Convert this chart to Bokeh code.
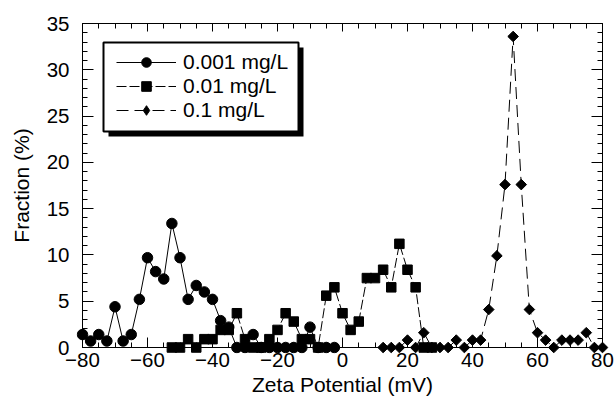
import numpy as np
from bokeh.plotting import figure
from bokeh.models import (LinearAxis, SingleIntervalTicker, Range1d, Legend,
                          LegendItem, BoxAnnotation, CustomLabelingPolicy)
from bokeh.embed import file_html
from bokeh.resources import INLINE

# Zeta potential distributions at three concentrations
zeta_001 = [-80, -77.5, -75, -72.5, -70, -67.5, -65, -62.5, -60, -57.5, -55,
            -52.5, -50, -47.5, -45, -42.5, -40, -37.5, -35, -32.5, -30, -27.5,
            -25, -22.5, -20, -17.5, -15, -12.5, -10, -7.5, -5, -2.5]
frac_001 = [1.4, 0.7, 1.4, 0.7, 4.4, 0.7, 1.4, 5.2, 9.7, 8.2, 7.4,
            13.4, 9.7, 5.2, 6.7, 6.0, 5.2, 2.9, 2.2, 0, 0, 1.4,
            0, 0, 0, 0, 0, 0, 2.2, 0, 0, 0]

zeta_01 = [-52.5, -50, -47.5, -45, -42.5, -40, -37.5, -35, -32.5, -30, -27.5,
           -25, -22.5, -20, -17.5, -15, -12.5, -10, -7.5, -5, -2.5, 0, 2.5,
           5, 7.5, 10, 12.5, 15, 17.5, 20, 22.5, 25, 27.5]
frac_01 = [0, 0, 0.9, 0, 0.9, 0.9, 1.9, 1.9, 3.7, 0.9, 0,
           0, 0.9, 1.9, 3.7, 2.8, 0.9, 0.9, 0, 5.6, 6.5, 3.7, 1.9,
           2.8, 7.5, 7.5, 8.4, 6.5, 11.2, 8.4, 6.5, 0, 0]

zeta_1 = [12.5, 15, 17.5, 20, 22.5, 25, 27.5, 30, 32.5, 35, 37.5, 40, 42.5,
          45, 47.5, 50, 52.5, 55, 57.5, 60, 62.5, 65, 67.5, 70, 72.5, 75,
          77.5, 80]
frac_1 = [0, 0, 0, 0.8, 0, 1.6, 0, 0, 0, 0.8, 0, 0.8, 0.8,
          4.1, 9.9, 17.6, 33.6, 17.6, 4.1, 1.6, 0.8, 0, 0.8, 0.8, 0.8, 1.6,
          0, 0]

labels = ["0.001 mg/L", "0.01 mg/L", "0.1 mg/L"]

X0, X1, Y0, Y1 = -80, 80, 0, 35
FONT = "Liberation Sans"

# frame geometry (px); a small pad keeps markers sitting on the axes unclipped
W, H = 616, 403
FL, FR, FT, FB = 76, 608, 17, 353
PAD = 6
xpad = PAD * (X1 - X0) / (FR - FL - 2 * PAD)
ypad = PAD * (Y1 - Y0) / (FB - FT - 2 * PAD)

p = figure(width=W, height=H, output_backend="svg", toolbar_location=None,
           x_range=Range1d(X0 - xpad, X1 + xpad),
           y_range=Range1d(Y0 - ypad, Y1 + ypad),
           x_axis_type=None, y_axis_type=None,
           min_border_left=FL, min_border_right=W - FR,
           min_border_top=FT, min_border_bottom=H - FB)
p.outline_line_color = None
p.background_fill_color = "white"
p.border_fill_color = "white"


def xticker():
    return SingleIntervalTicker(interval=20, num_minor_ticks=4)


def yticker():
    return SingleIntervalTicker(interval=5, num_minor_ticks=5)


def label_axis(ax, standoff, title_standoff):
    # tick labels and title only; the box lines come from the framed axes
    ax.axis_line_color = None
    ax.major_tick_line_color = None
    ax.minor_tick_line_color = None
    ax.major_tick_in = 0
    ax.major_tick_out = 0
    ax.minor_tick_in = 0
    ax.minor_tick_out = 0
    ax.major_label_standoff = standoff
    ax.axis_label_standoff = title_standoff
    ax.major_label_text_font = FONT
    ax.major_label_text_font_size = "20.5px"
    ax.major_label_text_color = "black"
    ax.axis_label_text_font = FONT
    ax.axis_label_text_font_style = "normal"
    ax.axis_label_text_font_size = "21px"
    ax.axis_label_text_color = "black"


no_labels = CustomLabelingPolicy(
    code="for (const i of [...indices]) indices.unset(i); return indices")


def box_axis(ax, major_in, major_out, minor_in, minor_out):
    # box edge at a fixed data location, ticks only
    ax.axis_line_color = "black"
    ax.axis_line_width = 1
    ax.major_tick_line_color = "black"
    ax.minor_tick_line_color = "black"
    ax.major_tick_in = major_in
    ax.major_tick_out = major_out
    ax.minor_tick_in = minor_in
    ax.minor_tick_out = minor_out
    ax.major_label_policy = no_labels
    ax.major_label_standoff = 0
    ax.major_label_text_font_size = "1px"


bottom = LinearAxis(ticker=xticker(), axis_label="Zeta Potential (mV)")
label_axis(bottom, -1, 3)
p.add_layout(bottom, "below")

left = LinearAxis(ticker=yticker(), axis_label="Fraction (%)")
label_axis(left, 7, 11)
p.add_layout(left, "left")

# frame edges: top and bottom in the "above" panel, left and right in "right"
edge_top = LinearAxis(ticker=xticker(), fixed_location=Y1, bounds=(X0, X1))
box_axis(edge_top, 8, 0, 5, 0)
p.add_layout(edge_top, "above")
edge_bottom = LinearAxis(ticker=xticker(), fixed_location=Y0, bounds=(X0, X1))
box_axis(edge_bottom, 0, 10, 0, 5)
p.add_layout(edge_bottom, "above")

edge_right = LinearAxis(ticker=yticker(), fixed_location=X1, bounds=(Y0, Y1))
box_axis(edge_right, 11, 0, 5, 0)
p.add_layout(edge_right, "right")
edge_left = LinearAxis(ticker=yticker(), fixed_location=X0, bounds=(Y0, Y1))
box_axis(edge_left, 0, 11, 0, 5)
p.add_layout(edge_left, "right")

# series: lines under markers
r3l = p.line(zeta_1, frac_1, line_color="black", line_width=1, line_dash="12 6")
r3m = p.scatter(zeta_1, frac_1, marker="square", angle=np.pi / 4, size=7.5,
                fill_color="black", line_color="black")
r2l = p.line(zeta_01, frac_01, line_color="black", line_width=1, line_dash="10 3")
r2m = p.scatter(zeta_01, frac_01, marker="square", size=9.5,
                fill_color="black", line_color="black")
r1l = p.line(zeta_001, frac_001, line_color="black", line_width=1)
r1m = p.scatter(zeta_001, frac_001, marker="circle", size=10.5,
                fill_color="black", line_color="black")

# legend key for the diamonds (legend keys ignore marker angle)
r3key = p.scatter(x=np.array([np.nan]), y=np.array([np.nan]), marker="diamond",
                  fill_color="black", line_color="black")

# pixel -> data helpers for the legend panel
xscale = (FR - FL) / (X1 - X0 + 2 * xpad)
yscale = (FB - FT) / (Y1 - Y0 + 2 * ypad)


def px_x(px):
    return X0 - xpad + (px - FL) / xscale


def px_y(py):
    return Y0 - ypad + (FB - py) / yscale


# legend panel: white box with a black drop shadow
BOX_L, BOX_R, BOX_T, BOX_B = 103, 298, 42, 131
SH = 5
shadow = BoxAnnotation(left=px_x(BOX_L + SH), right=px_x(BOX_R + SH),
                       top=px_y(BOX_T + SH), bottom=px_y(BOX_B + SH),
                       fill_color="black", fill_alpha=1, line_color=None)
p.add_layout(shadow)
panel = BoxAnnotation(left=px_x(BOX_L), right=px_x(BOX_R),
                      top=px_y(BOX_T), bottom=px_y(BOX_B),
                      fill_color="white", fill_alpha=1,
                      line_color="black", line_width=2, line_alpha=1)
p.add_layout(panel)

# legend entries drawn inside the panel
ROW_H = 24
legend = Legend(items=[LegendItem(label=labels[0], renderers=[r1l, r1m]),
                       LegendItem(label=labels[1], renderers=[r2l, r2m]),
                       LegendItem(label=labels[2], renderers=[r3l, r3key])],
                location=(116 - FL, FB - (50 + 3 * ROW_H)), margin=0, padding=0,
                spacing=0, glyph_width=60, glyph_height=ROW_H,
                label_height=ROW_H, label_width=100, label_standoff=7,
                label_text_font=FONT, label_text_font_size="21px",
                label_text_color="black",
                border_line_color=None, background_fill_alpha=0)
p.add_layout(legend)

open("out.html", "w").write(file_html(p, INLINE))
